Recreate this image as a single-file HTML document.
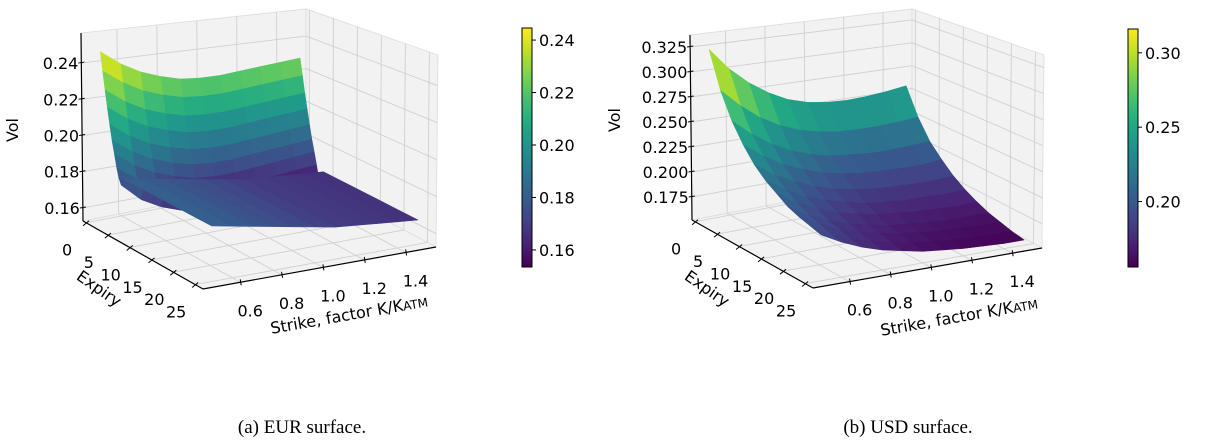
<!DOCTYPE html>
<html><head><meta charset="utf-8"><style>
body{margin:0;background:#fff;}
svg{display:block;font-family:"DejaVu Sans","Liberation Sans",sans-serif;}
</style></head><body>
<svg id="fig" width="1206" height="441" viewBox="0 0 1206 441"></svg>
<script>
const strikes = [0.5,0.6,0.7,0.8,0.9,1.0,1.1,1.2,1.3,1.4,1.5];
const strikeTicks = [0.6,0.8,1.0,1.2,1.4];
const expiryTicks = [0,5,10,15,20,25];
const eurExpiries = [0,0.5,1,1.5,2,2.5,3,3.5,4,4.5,5,10,15,20,25];
const eurVols = [
[.246,.238,.232,.228,.225,.224,.224,.225,.226,.227,.228],
[.236,.228,.222,.218,.215,.214,.214,.215,.216,.217,.218],
[.226,.218,.212,.208,.205,.204,.204,.205,.206,.207,.208],
[.217,.209,.203,.199,.196,.195,.195,.196,.197,.198,.199],
[.208,.200,.194,.190,.187,.186,.186,.187,.188,.189,.190],
[.200,.192,.186,.182,.179,.178,.178,.179,.180,.181,.182],
[.193,.185,.179,.175,.172,.171,.171,.172,.173,.174,.175],
[.186,.178,.172,.168,.165,.164,.164,.165,.166,.167,.168],
[.181,.172,.166,.162,.159,.158,.157,.157,.158,.159,.160],
[.178,.168,.162,.158,.156,.155,.154,.154,.155,.156,.157],
[.182,.180,.178,.176,.174,.172,.170,.169,.168,.167,.166],
[.182,.180,.178,.176,.174,.172,.170,.169,.168,.167,.166],
[.182,.180,.178,.176,.174,.172,.170,.169,.168,.167,.166],
[.182,.180,.178,.176,.174,.172,.170,.169,.168,.167,.166],
[.182,.180,.178,.176,.174,.172,.170,.169,.168,.167,.166]
];
const eurVolTicks = [0.16,0.18,0.20,0.22,0.24];
const eurVolTickLabels = ["0.16","0.18","0.20","0.22","0.24"];
const eurCbTicks = [0.16,0.18,0.20,0.22,0.24];
const eurCbTickLabels = ["0.16","0.18","0.20","0.22","0.24"];
const usdExpiries = [0,2.5,5,7.5,10,12.5,15,17.5,20,22.5,25];
const usdVols = [
[.322,.300,.283,.270,.260,.254,.251,.250,.251,.253,.256],
[.286,.268,.253,.242,.234,.229,.226,.225,.225,.226,.228],
[.261,.245,.232,.222,.215,.210,.208,.206,.206,.207,.208],
[.243,.229,.217,.209,.202,.198,.195,.194,.193,.193,.195],
[.229,.216,.206,.198,.192,.188,.185,.184,.183,.183,.184],
[.219,.207,.197,.190,.185,.180,.178,.176,.176,.175,.176],
[.212,.200,.191,.184,.179,.175,.173,.171,.170,.169,.170],
[.205,.194,.185,.179,.174,.170,.168,.166,.165,.165,.165],
[.201,.191,.182,.176,.172,.168,.166,.164,.163,.162,.162],
[.198,.187,.179,.173,.169,.165,.163,.161,.160,.159,.159],
[.195,.185,.177,.171,.167,.163,.161,.159,.158,.157,.157]
];
const usdVolTicks = [0.175,0.200,0.225,0.250,0.275,0.300,0.325];
const usdVolTickLabels = ["0.175","0.200","0.225","0.250","0.275","0.300","0.325"];
const usdCbTicks = [0.20,0.25,0.30];
const usdCbTickLabels = ["0.20","0.25","0.30"];

const NS="http://www.w3.org/2000/svg";
const svg=document.getElementById('fig');
function mk(tag,attrs,parent){const e=document.createElementNS(NS,tag);for(const k in attrs)e.setAttribute(k,attrs[k]);(parent||svg).appendChild(e);return e;}
const VIR=[[68,1,84],[72,36,117],[65,68,135],[53,95,141],[42,120,142],[33,145,140],[34,168,132],[68,191,112],[122,209,81],[189,223,38],[253,231,37]];
function viridis(t){t=Math.max(0,Math.min(1,t));const s=t*10,i=Math.min(9,Math.floor(s)),f=s-i;const a=VIR[i],b=VIR[i+1];return 'rgb('+a.map((x,k)=>Math.round(x+(b[k]-x)*f)).join(',')+')';}

function makeChart(cfg){
  const g=mk('g',{});
  
  
  const c=cfg.corners;
  function P(u,v,w){
    const bil=(a,d,b,cc)=>[0,1].map(k=>(1-u)*(1-v)*a[k]+u*(1-v)*d[k]+(1-u)*v*b[k]+u*v*cc[k]);
    const p0=bil(c.A,c.D,c.B,c.C),p1=bil(c.A2,c.D2,c.B2,c.C2);
    return [p0[0]+(p1[0]-p0[0])*w,p0[1]+(p1[1]-p0[1])*w];
  }
  const uS=s=>(s-cfg.sMin)/(cfg.sMax-cfg.sMin);
  const vE=e=>(e-cfg.eMin)/(cfg.eMax-cfg.eMin);
  const wV=z=>(z-cfg.zMin)/(cfg.zMax-cfg.zMin);
  const pts=a=>a.map(p=>p[0].toFixed(1)+','+p[1].toFixed(1)).join(' ');
  const panes=[['back-pane',[[0,0,0],[1,0,0],[1,0,1],[0,0,1]]],['side-pane',[[1,0,0],[1,1,0],[1,1,1],[1,0,1]]],['floor-pane',[[0,0,0],[1,0,0],[1,1,0],[0,1,0]]]];
  panes.forEach(([n,q])=>{const e=mk('polygon',{points:pts(q.map(p=>P(...p))),fill:'#f2f2f2',stroke:'#dcdcdc','stroke-width':0.8},g);
    
    });
  function gl(a,b,name){const p=P(...a),q=P(...b);const e=mk('line',{x1:p[0],y1:p[1],x2:q[0],y2:q[1],stroke:'#d0d0d0','stroke-width':0.9},g);
    
    }
  strikeTicks.forEach(s=>{const u=uS(s);gl([u,0,0],[u,0,1],'grid-line');gl([u,0,0],[u,1,0],'grid-line');});
  expiryTicks.forEach(x=>{const v=vE(x);gl([1,v,0],[1,v,1],'grid-line');gl([0,v,0],[1,v,0],'grid-line');});
  cfg.volTicks.forEach(z=>{const w=wV(z);gl([0,0,w],[1,0,w],'grid-line');gl([1,0,w],[1,1,w],'grid-line');});
  const quads=[];
  const E=cfg.expiries,V=cfg.vols;
  for(let i=0;i<E.length-1;i++)for(let j=0;j<strikes.length-1;j++){
    const cs=[[i,j],[i,j+1],[i+1,j+1],[i+1,j]];
    const p=cs.map(([a,b])=>P(uS(strikes[b]),vE(E[a]),wV(V[a][b])));
    const avg=(V[i][j]+V[i][j+1]+V[i+1][j]+V[i+1][j+1])/4;
    const key=(vE(E[i])+vE(E[i+1]))/2-(uS(strikes[j])+uS(strikes[j+1]))/2;
    quads.push({p,avg,key});
  }
  quads.sort((a,b)=>a.key-b.key);
  quads.forEach(q=>{const col=viridis((q.avg-cfg.cMin)/(cfg.cMax-cfg.cMin));
    const e=mk('polygon',{points:pts(q.p),fill:col,stroke:col,'stroke-width':0.6,'stroke-linejoin':'round'},g);
    
    });
  function al(a,b,name){const p=P(...a),q=P(...b);const e=mk('line',{x1:p[0],y1:p[1],x2:q[0],y2:q[1],stroke:'#000','stroke-width':1.2},g);
    
    }
  al([0,0,0],[0,0,1],'vol-axis');al([0,0,0],[0,1,0],'expiry-axis');al([0,1,0],[1,1,0],'strike-axis');
  function txt(x,y,s,attrs,name){const e=mk('text',Object.assign({x:x,y:y,'font-size':16,fill:'#000'},attrs||{}),g);e.textContent=s;
    
    return e;}
  cfg.volTicks.forEach((z,k)=>{const p=P(0,0,wV(z));
    const t=mk('line',{x1:p[0]-3,y1:p[1],x2:p[0]+3,y2:p[1]-1,stroke:'#000','stroke-width':1},g);
    
    
    txt(p[0]-3,p[1]+6,cfg.volTickLabels[k],{'text-anchor':'end'},'vol-tick-label');});
  expiryTicks.forEach(x=>{const p=P(0,vE(x),0);
    const t=mk('line',{x1:p[0]-3,y1:p[1]+3,x2:p[0]+3,y2:p[1]-2,stroke:'#000','stroke-width':1},g);
    
    
    txt(p[0]-19,p[1]+33,String(x),{'text-anchor':'middle'},'expiry-tick-label');});
  strikeTicks.forEach(s=>{const p=P(uS(s),1,0);
    const t=mk('line',{x1:p[0],y1:p[1]-3,x2:p[0]+1,y2:p[1]+3,stroke:'#000','stroke-width':1},g);
    
    
    txt(p[0]+10,p[1]+34,s.toFixed(1),{'text-anchor':'middle'},'strike-tick-label');});
  const L=cfg.labels;
  txt(L.vol[0],L.vol[1],'Vol',{'text-anchor':'middle',transform:`rotate(-90 ${L.vol[0]} ${L.vol[1]})`},'vol-axis-title');
  txt(L.exp[0],L.exp[1],'Expiry',{'text-anchor':'middle',transform:`rotate(35 ${L.exp[0]} ${L.exp[1]})`},'expiry-axis-title');
  const st=txt(L.str[0],L.str[1],'',{'text-anchor':'middle',transform:`rotate(-10 ${L.str[0]} ${L.str[1]})`},'strike-axis-title');
  st.innerHTML='Strike, factor K/K<tspan font-size="12">ATM</tspan>';
  const cb=cfg.cb;
  const gid='grad'+cfg.name;
  const defs=mk('defs',{},g);const lg=mk('linearGradient',{id:gid,x1:0,y1:1,x2:0,y2:0},defs);
  for(let k=0;k<=10;k++)mk('stop',{offset:k/10,'stop-color':viridis(k/10)},lg);
  const r=mk('rect',{x:cb.x,y:cb.y0,width:cb.w,height:cb.y1-cb.y0,fill:`url(#${gid})`,stroke:'#000','stroke-width':1},g);
  
  
  cfg.cbTicks.forEach((z,k)=>{const y=cb.y1-(z-cfg.cMin)/(cfg.cMax-cfg.cMin)*(cb.y1-cb.y0);
    const t=mk('line',{x1:cb.x+cb.w,y1:y,x2:cb.x+cb.w+4,y2:y,stroke:'#000','stroke-width':1},g);
    
    
    txt(cb.x+cb.w+7,y+6,cfg.cbTickLabels[k],{},'colorbar-tick-label');});
  const cap=mk('text',{x:cfg.caption[0],y:cfg.caption[1],'font-size':19,'text-anchor':'middle','font-family':'"Liberation Serif",serif'},g);
  cap.textContent=cfg.captionText;
  
  
}

makeChart({name:'eur-surface-chart',
  corners:{A:[83,221],B:[203,289],C:[436,247],D:[306,178],A2:[81,33],B2:[203,90],C2:[438,55],D2:[306,9]},
  sMin:0.42,sMax:1.547,eMin:-0.7,eMax:26.8,zMin:0.1528,zMax:0.2566,cMin:0.1535,cMax:0.2446,
  expiries:eurExpiries,vols:eurVols,volTicks:eurVolTicks,volTickLabels:eurVolTickLabels,
  cbTicks:eurCbTicks,cbTickLabels:eurCbTickLabels,
  cb:{x:522,w:10,y0:28,y1:267},
  labels:{vol:[18,130],exp:[96,293],str:[350,320]},
  caption:[302,433],captionText:'(a) EUR surface.'});
makeChart({name:'usd-surface-chart',
  corners:{A:[692,220],B:[813,288],C:[1042,248],D:[912,178],A2:[690,35],B2:[813,90],C2:[1044,55],D2:[912,9]},
  sMin:0.42,sMax:1.547,eMin:-0.7,eMax:26.8,zMin:0.152,zMax:0.337,cMin:0.156,cMax:0.316,
  expiries:usdExpiries,vols:usdVols,volTicks:usdVolTicks,volTickLabels:usdVolTickLabels,
  cbTicks:usdCbTicks,cbTickLabels:usdCbTickLabels,
  cb:{x:1128,w:10,y0:29,y1:267},
  labels:{vol:[620,120],exp:[704,293],str:[960,322]},
  caption:[908,433],captionText:'(b) USD surface.'});
</script>
</body></html>
